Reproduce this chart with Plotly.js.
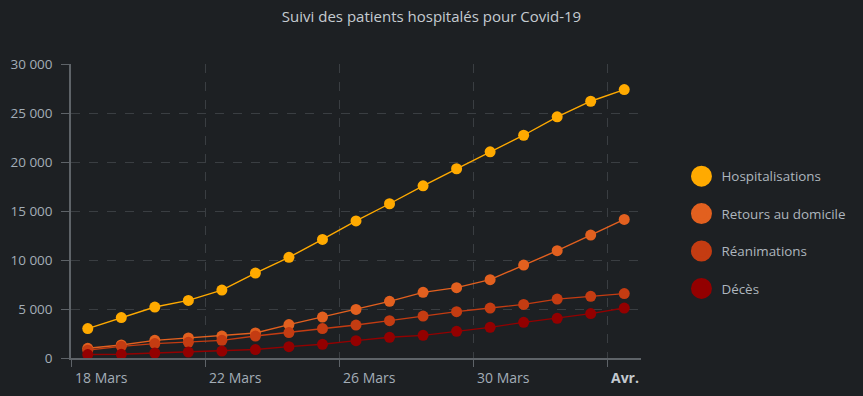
<!DOCTYPE html>
<html>
<head>
<meta charset="utf-8">
<script src="https://cdn.plot.ly/plotly-3.0.1.min.js"></script>
<style>
html,body{margin:0;padding:0;background:#1d2023;}
#chart{width:863px;height:396px;}
</style>
</head>
<body>
<div id="chart"></div>
<script>
// ---- Data ----
var dates = ['2020-03-18','2020-03-19','2020-03-20','2020-03-21','2020-03-22','2020-03-23',
             '2020-03-24','2020-03-25','2020-03-26','2020-03-27','2020-03-28','2020-03-29',
             '2020-03-30','2020-03-31','2020-04-01','2020-04-02','2020-04-03'];
var hospitalisations = [3000,4120,5200,5880,6930,8670,10270,12100,13990,15740,17570,19310,21040,22730,24610,26200,27390];
var retours = [990,1330,1800,2040,2240,2550,3410,4180,4960,5780,6700,7180,7990,9480,10950,12540,14140];
var reanimations = [800,1190,1470,1600,1800,2240,2590,3000,3360,3810,4280,4730,5100,5470,6010,6290,6570];
var deces = [350,380,510,610,710,860,1160,1400,1770,2110,2310,2720,3130,3640,4050,4530,5100];

var seriesNames = ['Hospitalisations','Retours au domicile','Réanimations','Décès'];
var seriesValues = [hospitalisations, retours, reanimations, deces];
var colors = ['#ffaa00','#e2601f','#c43c12','#930000'];

var tickDates = ['2020-03-18','2020-03-22','2020-03-26','2020-03-30','2020-04-03'];
var tickLabels = ['18 Mars','22 Mars','26 Mars','30 Mars','<b>Avr.</b>'];

var title = 'Suivi des patients hospitalés pour Covid-19';

// ---- Build ----
var FONT = 'Open Sans, Noto Sans, sans-serif';
var xs = dates.map(function(d){ return d + ' 12:00'; });

var traces = [];
seriesValues.forEach(function(vals, i){
  traces.push({
    type:'scatter', mode:'lines+markers', x: xs, y: vals, name: seriesNames[i],
    line:{color: colors[i], width:1.4},
    marker:{color: colors[i], size:11},
    showlegend:false, hoverinfo:'x+y+name'
  });
});
seriesNames.forEach(function(n, i){
  traces.push({
    type:'scatter', mode:'markers', x:[null], y:[null], name:n,
    legendgroup:'g'+i,
    marker:{color: colors[i], size:16, line:{color: colors[i], width:5}},
    showlegend:true, hoverinfo:'skip'
  });
});

var annotations = tickDates.map(function(d, i){
  return {
    x: d, xref:'x', y:0, yref:'paper', yanchor:'middle', xanchor:'left',
    yshift:-19, xshift:2, showarrow:false, text: tickLabels[i],
    font:{family:FONT, size:14, color: i === tickDates.length-1 ? '#c3c9cf' : '#a3adb7'}
  };
});

var layout = {
  width:863, height:396,
  paper_bgcolor:'#1d2023', plot_bgcolor:'#1d2023',
  margin:{l:71, r:220, t:64, b:38, pad:0},
  separators:', ',
  title:{text: title, x:0.5, xanchor:'center', y:1-16.7/396, yref:'container', yanchor:'middle',
         font:{family:FONT, size:15, color:'#c5cbd1'}},
  xaxis:{
    type:'date', range:['2020-03-18 00:00','2020-04-04 00:00'],
    tickvals: tickDates, showticklabels:false,
    ticks:'outside', ticklen:7, tickcolor:'#5e6368', tickwidth:1,
    showgrid:true, gridcolor:'#3a3e42', griddash:'dash', gridwidth:1,
    showline:true, linecolor:'#5e6368', linewidth:2,
    zeroline:false, fixedrange:true
  },
  yaxis:{
    range:[0,30000], dtick:5000, tick0:0, tickformat:',',
    ticks:'outside', ticklen:8, tickcolor:'#5e6368', tickwidth:1,
    ticklabelstandoff:6,
    showgrid:true, gridcolor:'#3a3e42', griddash:'dash', gridwidth:1,
    showline:true, linecolor:'#5e6368', linewidth:1.5,
    zeroline:false, fixedrange:true,
    tickfont:{family:FONT, size:13.5, color:'#a3adb7'}
  },
  legend:{
    x:1.071, xanchor:'left', y:0.427, yanchor:'middle',
    font:{family:FONT, size:13.4, color:'#aeb6be'},
    bgcolor:'rgba(0,0,0,0)', tracegroupgap:17, traceorder:'grouped',
    itemclick:false, itemdoubleclick:false
  },
  annotations: annotations,
  showlegend:true
};

Plotly.newPlot('chart', traces, layout, {displayModeBar:false, staticPlot:false});
</script>
</body>
</html>
